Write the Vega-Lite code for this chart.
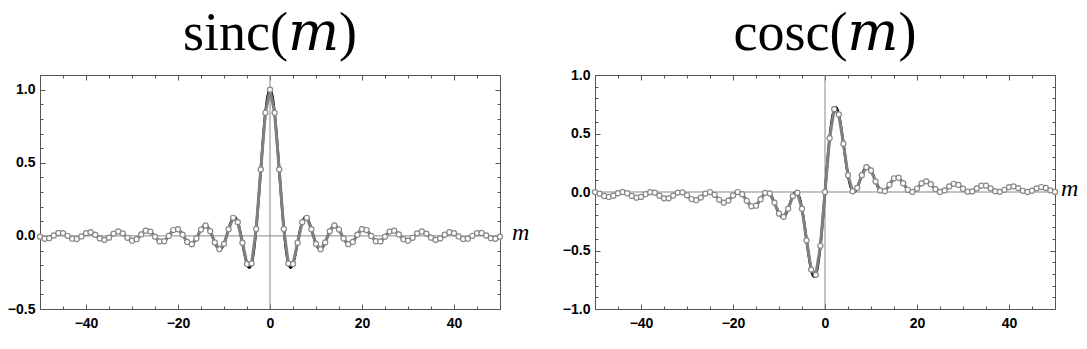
{
 "$schema": "https://vega.github.io/schema/vega-lite/v6.json",
 "background": "white",
 "padding": {"left": 6, "top": 6, "right": 5, "bottom": 5},
 "spacing": 31,
 "datasets": {"fn": [
  {"m":-50,"s":-0.0052,"c":-0.0007},{"m":-49,"s":-0.0195,"c":-0.0143},{"m":-48,"s":-0.0160,"c":-0.0342},{"m":-47,"s":0.0026,"c":-0.0424},{"m":-46,"s":0.0196,"c":-0.0311},
  {"m":-45,"s":0.0189,"c":-0.0105},{"m":-44,"s":0.0004,"c":0.0},{"m":-43,"s":-0.0193,"c":-0.0103},{"m":-42,"s":-0.0218,"c":-0.0333},{"m":-41,"s":-0.0039,"c":-0.0485},
  {"m":-40,"s":0.0186,"c":-0.0417},{"m":-39,"s":0.0247,"c":-0.0188},{"m":-38,"s":0.0078,"c":-0.0012},{"m":-37,"s":-0.0174,"c":-0.0063},{"m":-36,"s":-0.0275,"c":-0.0313},
  {"m":-35,"s":-0.0122,"c":-0.0544},{"m":-34,"s":0.0156,"c":-0.0544},{"m":-33,"s":0.0303,"c":-0.0307},{"m":-32,"s":0.0172,"c":-0.0052},{"m":-31,"s":-0.0130,"c":-0.0028},
  {"m":-30,"s":-0.0329,"c":-0.0282},{"m":-29,"s":-0.0229,"c":-0.0603},{"m":-28,"s":0.0097,"c":-0.0701},{"m":-27,"s":0.0354,"c":-0.0479},{"m":-26,"s":0.0293,"c":-0.0136},
  {"m":-25,"s":-0.0053,"c":-0.0004},{"m":-24,"s":-0.0377,"c":-0.0240},{"m":-23,"s":-0.0368,"c":-0.0666},{"m":-22,"s":-0.0004,"c":-0.0909},{"m":-21,"s":0.0398,"c":-0.0737},
  {"m":-20,"s":0.0456,"c":-0.0296},{"m":-19,"s":0.0079,"c":-0.0006},{"m":-18,"s":-0.0417,"c":-0.0189},{"m":-17,"s":-0.0566,"c":-0.0750},{"m":-16,"s":-0.0180,"c":-0.1224},
  {"m":-15,"s":0.0434,"c":-0.1173},{"m":-14,"s":0.0708,"c":-0.0617},{"m":-13,"s":0.0323,"c":-0.0071},{"m":-12,"s":-0.0447,"c":-0.0130},{"m":-11.5,"s":-0.0761,"c":-0.0450},
  {"m":-11,"s":-0.0909,"c":-0.0905},{"m":-10.5,"s":-0.0838,"c":-0.1405},{"m":-10,"s":-0.0544,"c":-0.1839},{"m":-9.5,"s":-0.0079,"c":-0.2102},{"m":-9,"s":0.0458,"c":-0.2123},
  {"m":-8.5,"s":0.0939,"c":-0.1885},{"m":-8,"s":0.1237,"c":-0.1432},{"m":-7.5,"s":0.1251,"c":-0.0871},{"m":-7,"s":0.0939,"c":-0.0352},{"m":-6.5,"s":0.0331,"c":-0.0036},
  {"m":-6,"s":-0.0466,"c":-0.0066},{"m":-5.5,"s":-0.1283,"c":-0.0530},{"m":-5,"s":-0.1918,"c":-0.1433},{"m":-4.5,"s":-0.2172,"c":-0.2691},{"m":-4,"s":-0.1892,"c":-0.4134},
  {"m":-3.5,"s":-0.1002,"c":-0.5533},{"m":-3,"s":0.0470,"c":-0.6633},{"m":-2.5,"s":0.2394,"c":-0.7205},{"m":-2,"s":0.4546,"c":-0.7081},{"m":-1.5,"s":0.6650,"c":-0.6195},
  {"m":-1,"s":0.8415,"c":-0.4597},{"m":-0.5,"s":0.9589,"c":-0.2448},{"m":0,"s":1.0,"c":0.0},
  {"m":0.5,"s":0.9589,"c":0.2448},{"m":1,"s":0.8415,"c":0.4597},{"m":1.5,"s":0.6650,"c":0.6195},{"m":2,"s":0.4546,"c":0.7081},{"m":2.5,"s":0.2394,"c":0.7205},
  {"m":3,"s":0.0470,"c":0.6633},{"m":3.5,"s":-0.1002,"c":0.5533},{"m":4,"s":-0.1892,"c":0.4134},{"m":4.5,"s":-0.2172,"c":0.2691},{"m":5,"s":-0.1918,"c":0.1433},
  {"m":5.5,"s":-0.1283,"c":0.0530},{"m":6,"s":-0.0466,"c":0.0066},{"m":6.5,"s":0.0331,"c":0.0036},{"m":7,"s":0.0939,"c":0.0352},{"m":7.5,"s":0.1251,"c":0.0871},
  {"m":8,"s":0.1237,"c":0.1432},{"m":8.5,"s":0.0939,"c":0.1885},{"m":9,"s":0.0458,"c":0.2123},{"m":9.5,"s":-0.0079,"c":0.2102},{"m":10,"s":-0.0544,"c":0.1839},
  {"m":10.5,"s":-0.0838,"c":0.1405},{"m":11,"s":-0.0909,"c":0.0905},{"m":11.5,"s":-0.0761,"c":0.0450},{"m":12,"s":-0.0447,"c":0.0130},{"m":13,"s":0.0323,"c":0.0071},
  {"m":14,"s":0.0708,"c":0.0617},{"m":15,"s":0.0434,"c":0.1173},{"m":16,"s":-0.0180,"c":0.1224},{"m":17,"s":-0.0566,"c":0.0750},{"m":18,"s":-0.0417,"c":0.0189},
  {"m":19,"s":0.0079,"c":0.0006},{"m":20,"s":0.0456,"c":0.0296},{"m":21,"s":0.0398,"c":0.0737},{"m":22,"s":-0.0004,"c":0.0909},{"m":23,"s":-0.0368,"c":0.0666},
  {"m":24,"s":-0.0377,"c":0.0240},{"m":25,"s":-0.0053,"c":0.0004},{"m":26,"s":0.0293,"c":0.0136},{"m":27,"s":0.0354,"c":0.0479},{"m":28,"s":0.0097,"c":0.0701},
  {"m":29,"s":-0.0229,"c":0.0603},{"m":30,"s":-0.0329,"c":0.0282},{"m":31,"s":-0.0130,"c":0.0028},{"m":32,"s":0.0172,"c":0.0052},{"m":33,"s":0.0303,"c":0.0307},
  {"m":34,"s":0.0156,"c":0.0544},{"m":35,"s":-0.0122,"c":0.0544},{"m":36,"s":-0.0275,"c":0.0313},{"m":37,"s":-0.0174,"c":0.0063},{"m":38,"s":0.0078,"c":0.0012},
  {"m":39,"s":0.0247,"c":0.0188},{"m":40,"s":0.0186,"c":0.0417},{"m":41,"s":-0.0039,"c":0.0485},{"m":42,"s":-0.0218,"c":0.0333},{"m":43,"s":-0.0193,"c":0.0103},
  {"m":44,"s":0.0004,"c":0.0},{"m":45,"s":0.0189,"c":0.0105},{"m":46,"s":0.0196,"c":0.0311},{"m":47,"s":0.0026,"c":0.0424},{"m":48,"s":-0.0160,"c":0.0342},
  {"m":49,"s":-0.0195,"c":0.0143},{"m":50,"s":-0.0052,"c":0.0007}
 ]},
 "config": {
  "view": {"stroke": "#555", "strokeWidth": 1},
  "axis": {"domain": false, "grid": false, "labelFont": "Liberation Sans", "labelFontWeight": "bold", "labelFontSize": 14, "labelColor": "#000", "tickColor": "#555", "tickWidth": 1, "labelOverlap": false, "labelFlush": false, "labelBound": false},
  "title": {"font": "Liberation Serif, DejaVu Serif", "fontSize": 54, "fontWeight": "normal", "color": "#000", "anchor": "middle", "baseline": "alphabetic", "offset": 7}
 },
 "hconcat": [
  {
   "width": 460, "height": 234,
   "title": "sinc(𝑚)",
   "resolve": {"axis": {"x": "independent", "y": "independent"}},
   "layer": [
    {"data": {"values": [{"z": 0}]}, "mark": {"type": "rule", "color": "#888", "strokeWidth": 1},
     "encoding": {"x": {"field": "z", "type": "quantitative", "scale": {"domain": [-50, 50], "nice": false, "zero": false}, "axis": null}}},
    {"data": {"values": [{"z": 0}]}, "mark": {"type": "rule", "color": "#888", "strokeWidth": 1},
     "encoding": {"y": {"field": "z", "type": "quantitative", "scale": {"domain": [-0.5, 1.1], "nice": false, "zero": false}, "axis": null}}},
    {"data": {"name": "fn"}, "mark": {"type": "line", "color": "#000", "strokeWidth": 2.5, "interpolate": "natural"},
     "encoding": {
      "x": {"field": "m", "type": "quantitative", "scale": {"domain": [-50, 50], "nice": false, "zero": false},
            "axis": {"orient": "bottom", "title": null, "values": [-50,-45,-40,-35,-30,-25,-20,-15,-10,-5,0,5,10,15,20,25,30,35,40,45,50],
                     "labelExpr": "datum.value % 20 === 0 ? datum.label : ''",
                     "tickSize": {"condition": {"test": "datum.value % 20 === 0", "value": -5}, "value": -3}, "labelPadding": 12}},
      "y": {"field": "s", "type": "quantitative", "scale": {"domain": [-0.5, 1.1], "nice": false, "zero": false},
            "axis": {"orient": "left", "title": null, "format": ".1f", "values": [-0.5,-0.4,-0.3,-0.2,-0.1,0,0.1,0.2,0.3,0.4,0.5,0.6,0.7,0.8,0.9,1.0,1.1],
                     "labelExpr": "abs(datum.value*2 - round(datum.value*2)) < 0.001 ? datum.label : ''",
                     "tickSize": {"condition": {"test": "abs(datum.value*2 - round(datum.value*2)) < 0.001", "value": -5}, "value": -3}, "labelPadding": 10}}
     }},
    {"data": {"name": "fn"}, "transform": [{"filter": "datum.m % 1 === 0"}], "mark": {"type": "line", "color": "#808080", "strokeWidth": 3},
     "encoding": {
      "x": {"field": "m", "type": "quantitative", "scale": {"domain": [-50, 50], "nice": false, "zero": false},
            "axis": {"orient": "top", "title": null, "labels": false, "values": [-50,-45,-40,-35,-30,-25,-20,-15,-10,-5,0,5,10,15,20,25,30,35,40,45,50],
                     "tickSize": {"condition": {"test": "datum.value % 20 === 0", "value": -5}, "value": -3}}},
      "y": {"field": "s", "type": "quantitative", "scale": {"domain": [-0.5, 1.1], "nice": false, "zero": false},
            "axis": {"orient": "right", "title": null, "labels": false, "values": [-0.5,-0.4,-0.3,-0.2,-0.1,0,0.1,0.2,0.3,0.4,0.5,0.6,0.7,0.8,0.9,1.0,1.1],
                     "tickSize": {"condition": {"test": "abs(datum.value*2 - round(datum.value*2)) < 0.001", "value": -5}, "value": -3}}}
     }},
    {"data": {"name": "fn"}, "transform": [{"filter": "datum.m % 1 === 0"}],
     "mark": {"type": "point", "shape": "circle", "filled": true, "fill": "white", "stroke": "#888", "strokeWidth": 1.2, "size": 26, "opacity": 1},
     "encoding": {
      "x": {"field": "m", "type": "quantitative", "scale": {"domain": [-50, 50], "nice": false, "zero": false}, "axis": null},
      "y": {"field": "s", "type": "quantitative", "scale": {"domain": [-0.5, 1.1], "nice": false, "zero": false}, "axis": null}
     }},
    {"data": {"values": [{"m": 50, "v": 0, "t": "m"}]},
     "mark": {"type": "text", "align": "left", "baseline": "alphabetic", "dx": 12, "dy": 4, "font": "Liberation Serif", "fontStyle": "italic", "fontSize": 24, "color": "#000"},
     "encoding": {
      "x": {"field": "m", "type": "quantitative", "scale": {"domain": [-50, 50], "nice": false, "zero": false}, "axis": null},
      "y": {"field": "v", "type": "quantitative", "scale": {"domain": [-0.5, 1.1], "nice": false, "zero": false}, "axis": null},
      "text": {"field": "t"}
     }}
   ]
  },
  {
   "width": 460, "height": 234,
   "title": "cosc(𝑚)",
   "resolve": {"axis": {"x": "independent", "y": "independent"}},
   "layer": [
    {"data": {"values": [{"z": 0}]}, "mark": {"type": "rule", "color": "#888", "strokeWidth": 1},
     "encoding": {"x": {"field": "z", "type": "quantitative", "scale": {"domain": [-50, 50], "nice": false, "zero": false}, "axis": null}}},
    {"data": {"values": [{"z": 0}]}, "mark": {"type": "rule", "color": "#888", "strokeWidth": 1},
     "encoding": {"y": {"field": "z", "type": "quantitative", "scale": {"domain": [-1, 1], "nice": false, "zero": false}, "axis": null}}},
    {"data": {"name": "fn"}, "mark": {"type": "line", "color": "#000", "strokeWidth": 2.5, "interpolate": "natural"},
     "encoding": {
      "x": {"field": "m", "type": "quantitative", "scale": {"domain": [-50, 50], "nice": false, "zero": false},
            "axis": {"orient": "bottom", "title": null, "values": [-50,-45,-40,-35,-30,-25,-20,-15,-10,-5,0,5,10,15,20,25,30,35,40,45,50],
                     "labelExpr": "datum.value % 20 === 0 ? datum.label : ''",
                     "tickSize": {"condition": {"test": "datum.value % 20 === 0", "value": -5}, "value": -3}, "labelPadding": 12}},
      "y": {"field": "c", "type": "quantitative", "scale": {"domain": [-1, 1], "nice": false, "zero": false},
            "axis": {"orient": "left", "title": null, "format": ".1f", "values": [-1.0,-0.9,-0.8,-0.7,-0.6,-0.5,-0.4,-0.3,-0.2,-0.1,0,0.1,0.2,0.3,0.4,0.5,0.6,0.7,0.8,0.9,1.0],
                     "labelExpr": "abs(datum.value*2 - round(datum.value*2)) < 0.001 ? datum.label : ''",
                     "tickSize": {"condition": {"test": "abs(datum.value*2 - round(datum.value*2)) < 0.001", "value": -5}, "value": -3}, "labelPadding": 10}}
     }},
    {"data": {"name": "fn"}, "transform": [{"filter": "datum.m % 1 === 0"}], "mark": {"type": "line", "color": "#808080", "strokeWidth": 3},
     "encoding": {
      "x": {"field": "m", "type": "quantitative", "scale": {"domain": [-50, 50], "nice": false, "zero": false},
            "axis": {"orient": "top", "title": null, "labels": false, "values": [-50,-45,-40,-35,-30,-25,-20,-15,-10,-5,0,5,10,15,20,25,30,35,40,45,50],
                     "tickSize": {"condition": {"test": "datum.value % 20 === 0", "value": -5}, "value": -3}}},
      "y": {"field": "c", "type": "quantitative", "scale": {"domain": [-1, 1], "nice": false, "zero": false},
            "axis": {"orient": "right", "title": null, "labels": false, "values": [-1.0,-0.9,-0.8,-0.7,-0.6,-0.5,-0.4,-0.3,-0.2,-0.1,0,0.1,0.2,0.3,0.4,0.5,0.6,0.7,0.8,0.9,1.0],
                     "tickSize": {"condition": {"test": "abs(datum.value*2 - round(datum.value*2)) < 0.001", "value": -5}, "value": -3}}}
     }},
    {"data": {"name": "fn"}, "transform": [{"filter": "datum.m % 1 === 0"}],
     "mark": {"type": "point", "shape": "circle", "filled": true, "fill": "white", "stroke": "#888", "strokeWidth": 1.2, "size": 26, "opacity": 1},
     "encoding": {
      "x": {"field": "m", "type": "quantitative", "scale": {"domain": [-50, 50], "nice": false, "zero": false}, "axis": null},
      "y": {"field": "c", "type": "quantitative", "scale": {"domain": [-1, 1], "nice": false, "zero": false}, "axis": null}
     }},
    {"data": {"values": [{"m": 50, "v": 0, "t": "m"}]},
     "mark": {"type": "text", "align": "left", "baseline": "alphabetic", "dx": 6, "dy": 4, "font": "Liberation Serif", "fontStyle": "italic", "fontSize": 24, "color": "#000"},
     "encoding": {
      "x": {"field": "m", "type": "quantitative", "scale": {"domain": [-50, 50], "nice": false, "zero": false}, "axis": null},
      "y": {"field": "v", "type": "quantitative", "scale": {"domain": [-1, 1], "nice": false, "zero": false}, "axis": null},
      "text": {"field": "t"}
     }}
   ]
  }
 ]
}
